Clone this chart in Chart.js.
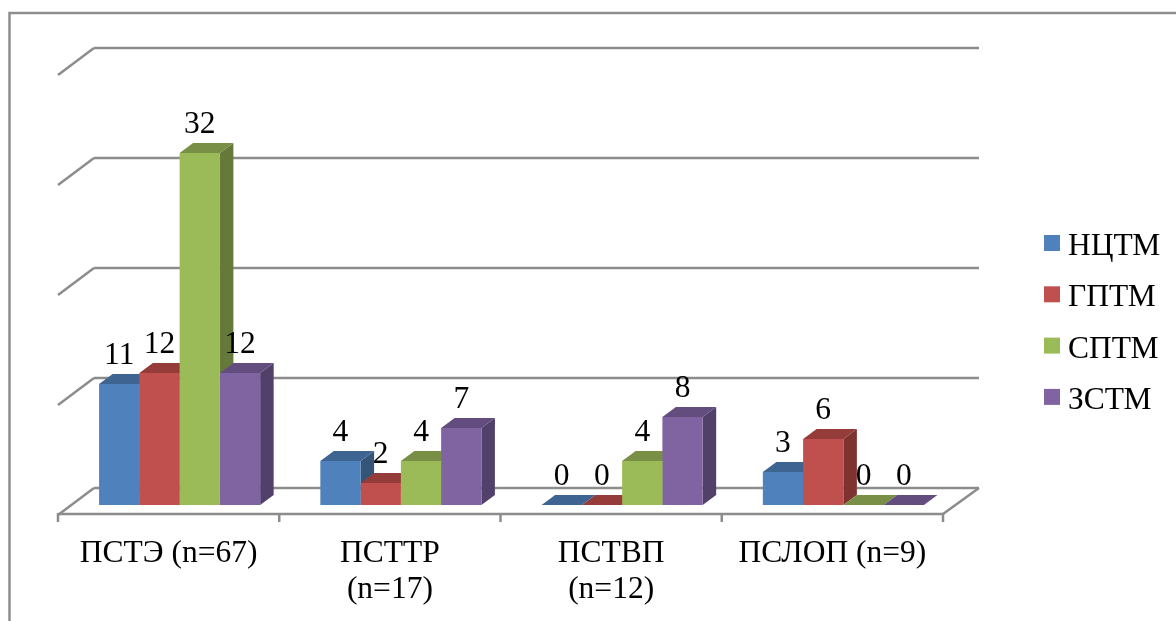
<!DOCTYPE html>
<html>
<head>
<meta charset="utf-8">
<style>
  html, body { margin: 0; padding: 0; background: #fff; overflow: hidden; }
  canvas { display: block; }
</style>
<script src="https://cdn.jsdelivr.net/npm/chart.js@4"></script>
</head>
<body>
<canvas id="chart" width="1176" height="621"></canvas>
<script>
const categories = ['ПСТЭ (n=67)', ['ПСТТР', '(n=17)'], ['ПСТВП', '(n=12)'], 'ПСЛОП (n=9)'];
const seriesNames = ['НЦТМ', 'ГПТМ', 'СПТМ', 'ЗСТМ'];
const nctm = [11, 4, 0, 3];
const gptm = [12, 2, 0, 6];
const sptm = [32, 4, 4, 0];
const zstm = [12, 7, 8, 0];
const yTicks = [0, 10, 20, 30, 40];

const frontColors = ['#4F81BD', '#C0504D', '#9BBB59', '#8064A2'];
const topColors = ['#3E6591', '#953C3A', '#788F45', '#634D7E'];
const sideColors = ['#345578', '#7E3331', '#657A3A', '#50406A'];

const gridColor = '#8C8C8C';
const serif = '"Liberation Serif", serif';
const barShift = 11;   // bars sit forward-right of the category centre
const barDepth = { x: 13.5, y: 10 };

function poly(ctx, pts, color) {
    ctx.beginPath();
    pts.forEach((p, i) => i ? ctx.lineTo(p[0], p[1]) : ctx.moveTo(p[0], p[1]));
    ctx.closePath();
    ctx.fillStyle = color;
    ctx.fill();
}

function line(ctx, x1, y1, x2, y2) {
    ctx.beginPath();
    ctx.moveTo(x1, y1);
    ctx.lineTo(x2, y2);
    ctx.stroke();
}

// frame, back wall gridlines and floor
const wallPlugin = {
    id: 'wall',
    beforeDatasetsDraw(chart) {
        const { ctx, scales: { x, y } } = chart;
        const left = x.left, right = x.right;
        ctx.save();
        ctx.strokeStyle = '#8E8E8E';
        ctx.lineWidth = 2.5;
        ctx.beginPath();
        ctx.moveTo(9.5, 621);
        ctx.lineTo(9.5, 13);
        ctx.lineTo(1176, 13);
        ctx.stroke();

        ctx.strokeStyle = gridColor;
        ctx.lineWidth = 2.5;
        yTicks.forEach(v => {
            const py = y.getPixelForValue(v);
            line(ctx, left + 36, py - 17, right + 36, py - 17);
            line(ctx, left, py + 10, left + 36, py - 17);
        });
        const floor = y.getPixelForValue(0);
        line(ctx, left, floor + 9, right, floor + 9);
        line(ctx, right, floor + 9, right + 36, floor - 17);
        for (let i = 0; i <= categories.length; i++) {
            const tx = left + (right - left) * i / categories.length;
            line(ctx, tx, floor + 8, tx, floor + 17);
        }

        // side and top faces go under the native bar fronts
        ctx.translate(barShift, 0);
        chart.getDatasetMeta(0).data.forEach((_, c) => {
            chart.data.datasets.forEach((ds, d) => {
                const bar = chart.getDatasetMeta(d).data[c];
                const l = bar.x - bar.width / 2, r = bar.x + bar.width / 2;
                poly(ctx, [[r, bar.y], [r + barDepth.x, bar.y - barDepth.y],
                    [r + barDepth.x, bar.base - barDepth.y], [r, bar.base]], sideColors[d]);
                poly(ctx, [[l, bar.y], [l + barDepth.x, bar.y - barDepth.y],
                    [r + barDepth.x, bar.y - barDepth.y], [r, bar.y]], topColors[d]);
            });
        });
        ctx.restore();

        ctx.save();
        ctx.translate(barShift, 0);
    },
    afterDatasetsDraw(chart) {
        const { ctx } = chart;
        ctx.restore();
        ctx.save();
        ctx.font = '31.5px ' + serif;
        ctx.fillStyle = '#000';
        ctx.textAlign = 'center';
        ctx.textBaseline = 'middle';
        chart.data.datasets.forEach((ds, d) => {
            chart.getDatasetMeta(d).data.forEach((bar, c) => {
                ctx.fillText(ds.data[c], bar.x + barShift, bar.y - 28);
            });
        });

        // legend: the text sits closer to the swatch than the built-in one allows
        ctx.textAlign = 'left';
        ctx.textBaseline = 'alphabetic';
        seriesNames.forEach((name, i) => {
            const top = 235 + i * 51.3;
            ctx.fillStyle = frontColors[i];
            ctx.fillRect(1044, top, 16, 16);
            ctx.fillStyle = '#000';
            ctx.fillText(name, 1068, top + 20);
        });
        ctx.restore();
    }
};

const seriesValues = [nctm, gptm, sptm, zstm];

new Chart(document.getElementById('chart'), {
    type: 'bar',
    data: {
        labels: categories,
        datasets: seriesNames.map((name, i) => ({
            label: name,
            data: seriesValues[i],
            backgroundColor: frontColors[i],
            borderWidth: 0,
            clip: false,
            barPercentage: 1,
            categoryPercentage: 0.728
        }))
    },
    options: {
        responsive: false,
        animation: false,
        layout: { padding: { left: 58, top: 65, right: 0, bottom: 0 } },
        plugins: {
            tooltip: { enabled: false },
            legend: { display: false }
        },
        scales: {
            x: {
                grid: { display: false },
                border: { display: false },
                ticks: {
                    font: { family: serif, size: 31.5, lineHeight: 1.14 },
                    color: '#000',
                    autoSkip: false,
                    maxRotation: 0,
                    padding: 23
                },
                afterFit: s => { s.height = 116; }
            },
            y: {
                position: 'right',
                min: 0,
                max: 40,
                grid: { display: false },
                border: { display: false },
                ticks: { display: false, stepSize: 10 },
                afterFit: s => { s.width = 233; }
            }
        }
    },
    plugins: [wallPlugin]
});
</script>
</body>
</html>
